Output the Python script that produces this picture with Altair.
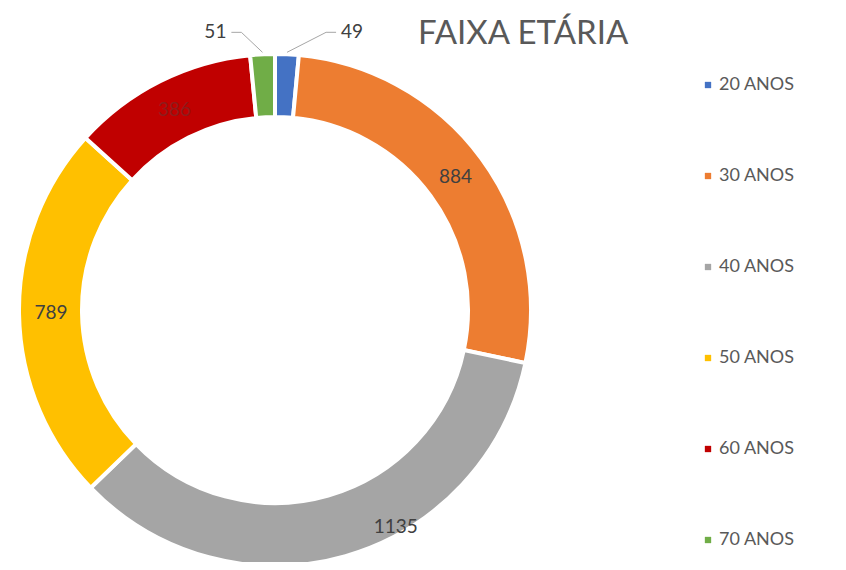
import altair as alt
import pandas as pd

categories = ["20 ANOS", "30 ANOS", "40 ANOS", "50 ANOS", "60 ANOS", "70 ANOS"]
values = [49, 884, 1135, 789, 386, 51]
colors = ["#4472C4", "#ED7D31", "#A5A5A5", "#FFC000", "#C00000", "#70AD47"]

df = pd.DataFrame({"cat": categories, "value": values, "idx": list(range(len(values)))})

CX, CY = 267, 302
R_OUT, R_IN = 256, 193
FONT = "Lato"

base = alt.Chart(df)

arcs = base.mark_arc(innerRadius=R_IN, outerRadius=R_OUT, stroke="white", strokeWidth=4).encode(
    theta=alt.Theta("value:Q", stack=True),
    order=alt.Order("idx:Q"),
    color=alt.Color(
        "cat:N",
        scale=alt.Scale(domain=categories, range=colors),
        legend=alt.Legend(
            title=None, orient="none", legendX=691, legendY=68,
            symbolType="square", symbolSize=40, symbolStrokeWidth=0,
            labelFont=FONT, labelFontSize=18, labelColor="#595959",
            rowPadding=73, labelOffset=2,
        ),
    ),
    x=alt.value(CX),
    y=alt.value(CY),
)

calc = (
    base.transform_window(cum="sum(value)", sort=[alt.SortField("idx")], frame=[None, 0])
    .transform_joinaggregate(total="sum(value)")
    .transform_calculate(mid="(datum.cum - datum.value/2) / datum.total * 2 * PI")
    .transform_calculate(
        sgn="datum.mid < PI ? 1 : -1",
        ix=f"{CX} + 224*sin(datum.mid)",
        iy=f"{CY} - 224*cos(datum.mid)",
        ex=f"{CX} + 258*sin(datum.mid)",
        ey=f"{CY} - 258*cos(datum.mid)",
    )
    .transform_calculate(
        ox=f"{CX} + 280*sin(datum.mid) + (datum.sgn > 0 ? 64 : -46)",
        oy=f"{CY} - 280*cos(datum.mid) + 2",
    )
    .transform_calculate(
        elx="datum.ox - datum.sgn*26",
        hx="datum.ox - datum.sgn*16",
    )
)

txt_kw = dict(font=FONT, fontSize=19, align="center", baseline="middle")

inner = calc.transform_filter("datum.value >= 100 && datum.cat != '40 ANOS'").mark_text(**txt_kw).encode(
    x=alt.X("ix:Q", scale=None), y=alt.Y("iy:Q", scale=None), text="value:Q",
    color=alt.condition("datum.cat == '60 ANOS'", alt.value("#8E1C1C"), alt.value("#404040")),
)
gray = calc.transform_filter("datum.cat == '40 ANOS'").mark_text(dx=59, dy=2, color="#404040", **txt_kw).encode(
    x=alt.X("ix:Q", scale=None), y=alt.Y("iy:Q", scale=None), text="value:Q"
)
outer = calc.transform_filter("datum.value < 100").mark_text(color="#404040", **txt_kw).encode(
    x=alt.X("ox:Q", scale=None), y=alt.Y("oy:Q", scale=None), text="value:Q"
)
lead1 = calc.transform_filter("datum.value < 100").mark_rule(color="#A6A6A6", strokeWidth=1).encode(
    x=alt.X("ex:Q", scale=None), y=alt.Y("ey:Q", scale=None),
    x2="elx:Q", y2="oy:Q",
)
lead2 = calc.transform_filter("datum.value < 100").mark_rule(color="#A6A6A6", strokeWidth=1).encode(
    x=alt.X("elx:Q", scale=None), y=alt.Y("oy:Q", scale=None),
    x2="hx:Q", y2="oy:Q",
)

chart = (
    alt.layer(arcs, lead1, lead2, inner, gray, outer)
    .properties(
        width=830, height=554,
        autosize=alt.AutoSizeParams(type="none"),
        padding=0,
        view=alt.ViewBackground(stroke="transparent", strokeWidth=0),
        title=alt.TitleParams(
            "FAIXA ETÁRIA", anchor="start", frame="group", dx=410, offset=-43,
            font=FONT, fontSize=33, fontWeight="normal", color="#595959",
        ),
    )
    .configure_view(stroke="transparent", strokeWidth=0)
    .configure(background="white")
)

chart.save("out.html", embed_options={"renderer": "svg", "actions": False})
